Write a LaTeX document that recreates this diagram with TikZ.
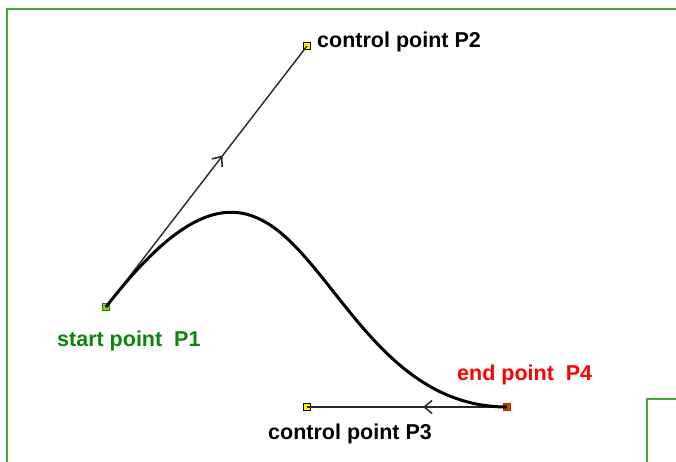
\documentclass[tikz,border=0pt]{standalone}
\usepackage{fontspec}
\setmainfont{Liberation Sans}
\usetikzlibrary{arrows.meta,decorations.markings}
\definecolor{framegreen}{RGB}{70,165,60}
\definecolor{textgreen}{RGB}{10,135,10}
\definecolor{ptyellow}{RGB}{255,240,0}
\begin{document}
\begin{tikzpicture}[x=1pt,y=-1pt,
  frame/.style={draw=framegreen,line width=2.2pt},
  pt/.style={draw,rectangle,inner sep=0pt,minimum size=6.5pt,line width=1pt,fill=ptyellow},
  tangent/.style={line width=1.4pt,black!85},
  curve/.style={line width=3pt,black},
  lbl/.style={anchor=base west,inner sep=0pt,font=\fontsize{21.5}{24}\selectfont\bfseries},
  midarrow/.style={postaction={decorate},decoration={markings,
     mark=at position #1 with {\arrow{Straight Barb[length=8pt,width=13pt,line width=1.5pt]}}}}
]
\useasboundingbox (0,0) rectangle (676,462);
% frames
\draw[frame] (7,470) -- (7,9) -- (680,9);
\draw[frame] (647,470) -- (647,399) -- (680,399);
% points
\node[pt,draw=textgreen,fill=ptyellow!60!textgreen] (p1) at (106,307) {};
\node[pt] (p2) at (307,46) {};
\node[pt] (p3) at (307,407) {};
\node[pt,draw=red,fill=red!30!black!60!ptyellow] (p4) at (507,407) {};
% tangents
\draw[tangent,midarrow=0.58] (p1.center) -- (p2.center);
\draw[tangent,midarrow=0.42] (p4.center) -- (p3.center);
% curve
\draw[curve] (p1.center) .. controls (p2.center) and (p3.center) .. (p4.center);
% labels
\node[lbl] (l2) at (317,48) {control point P2};
\node[lbl,text=textgreen] (l1) at (57,346) {start point\ \ P1};
\node[lbl,text=red] (l4) at (457,380) {end point\ \ P4};
\node[lbl] (l3) at (268,439) {control point P3};
\end{tikzpicture}
\end{document}
